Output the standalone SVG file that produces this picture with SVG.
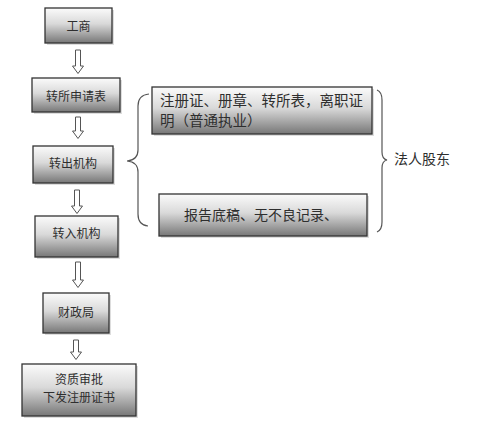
<svg xmlns="http://www.w3.org/2000/svg" width="496" height="431" viewBox="0 0 496 431">
<defs>
<linearGradient id="g" x1="0" y1="0" x2="0" y2="1">
<stop offset="0" stop-color="#fbfbfb"/>
<stop offset="0.45" stop-color="#d9d9d9"/>
<stop offset="1" stop-color="#777"/>
</linearGradient>
</defs>
<style>
.box{fill:url(#g);stroke:#333;stroke-width:1.3}
.sh{fill:#bbb;opacity:0.5}
.t{font-family:"Noto Sans CJK SC","Liberation Sans",sans-serif;fill:#2e2e2e}
.s{font-size:12px;text-anchor:middle}
.b{font-size:14px}
.a{font-size:14.5px}
.arr{fill:#fff;stroke:#555;stroke-width:1}
.br{fill:none;stroke:#555;stroke-width:1.2}
</style>
<rect width="496" height="431" fill="#fff"/>
<g id="n1"><rect class="sh" x="47" y="10" width="67" height="35"/><rect class="box" x="45" y="8" width="67" height="35"/><text class="t s" x="78.5" y="31">工商</text></g>
<g id="n2"><rect class="sh" x="34" y="80" width="88" height="34"/><rect class="box" x="32" y="78" width="88" height="34"/><text class="t s" x="76" y="101">转所申请表</text></g>
<g id="n3"><rect class="sh" x="35" y="148" width="80" height="37"/><rect class="box" x="33" y="146" width="80" height="37"/><text class="t s" x="73" y="168">转出机构</text></g>
<g id="n4"><rect class="sh" x="37" y="218" width="83" height="41"/><rect class="box" x="35" y="216" width="83" height="41"/><text class="t s" x="76.5" y="238">转入机构</text></g>
<g id="n5"><rect class="sh" x="45" y="295" width="66" height="40"/><rect class="box" x="43" y="293" width="66" height="40"/><text class="t s" x="76" y="317">财政局</text></g>
<g id="n6"><rect class="sh" x="24" y="366" width="114" height="52"/><rect class="box" x="22" y="364" width="114" height="52"/><text class="t s" x="79" y="384">资质审批</text><text class="t s" x="79" y="402">下发注册证书</text></g>
<g id="nA"><rect class="sh" x="154" y="89" width="220" height="47"/><rect class="box" x="152" y="87" width="220" height="47"/><text class="t a" x="160" y="106">注册证、册章、转所表，离职证</text><text class="t a" x="160" y="126">明（普通执业）</text></g>
<g id="nB"><rect class="sh" x="161" y="196" width="208" height="42"/><rect class="box" x="159" y="194" width="208" height="42"/><text class="t b" x="184" y="220">报告底稿、无不良记录、</text></g>
<g id="nC"><text class="t b" x="394" y="164">法人股东</text></g>
<g id="connectors">
<path class="arr" d="M75.5 50h5v16h3l-5.5 7.5l-5.5 -7.5h3z"/>
<path class="arr" d="M75.5 117h5v14h3l-5.5 7.5l-5.5 -7.5h3z"/>
<path class="arr" d="M74.5 190h5v16h3l-5.5 7.5l-5.5 -7.5h3z"/>
<path class="arr" d="M75.5 262h5v18h3l-5.5 7.5l-5.5 -7.5h3z"/>
<path class="arr" d="M73.5 340h5v12h3l-5.5 7.5l-5.5 -7.5h3z"/>
<path class="br" d="M149 94 Q138 95 138 106 L138 150 Q138 160 127 161 Q138 162 138 172 L138 214 Q138 225 148 226"/>
<path class="br" d="M377 90 Q382 92 382 100 L382 152 Q382 159 387 160 Q382 161 382 168 L382 222 Q382 230 377 232"/>
</g>
</svg>
